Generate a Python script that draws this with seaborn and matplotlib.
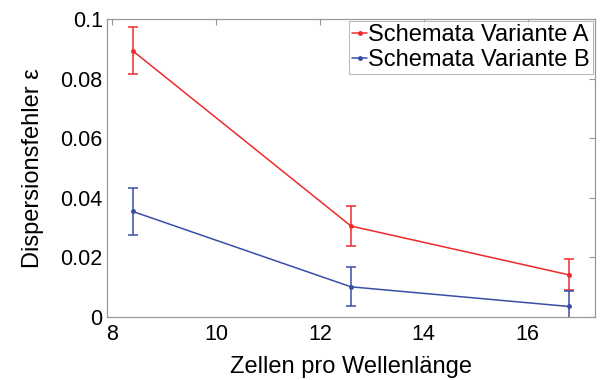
import matplotlib
matplotlib.use("Agg")
import matplotlib.pyplot as plt
import seaborn as sns
import pandas as pd

x_vals = [8.4, 12.6, 16.8]
series_a = [0.0893, 0.0305, 0.0141]
err_a = [0.0079, 0.0066, 0.0052]
series_b = [0.0354, 0.0101, 0.0035]
err_b = [0.0079, 0.0066, 0.0053]
labels = ["Schemata Variante A", "Schemata Variante B"]
colors = ["#EE2B2B", "#3A4DA6"]

sns.set_style("white")
plt.rcParams["font.family"] = ["Liberation Sans", "DejaVu Sans"]
plt.rcParams["text.color"] = "black"
plt.rcParams["axes.labelcolor"] = "black"

df = pd.DataFrame({
    "x": x_vals * 2,
    "y": series_a + series_b,
    "s": [labels[0]] * 3 + [labels[1]] * 3,
})

fig = plt.figure(figsize=(6, 3.8), dpi=100)
ax = fig.add_axes([0.178, 0.166, 0.814, 0.784])
sns.lineplot(data=df, x="x", y="y", hue="s", palette=colors, marker="o",
             markersize=3.5, markeredgewidth=0, linewidth=1.1, ax=ax)
for ys, es, c in [(series_a, err_a, colors[0]), (series_b, err_b, colors[1])]:
    ax.errorbar(x_vals, ys, yerr=es, fmt="none", ecolor=c, elinewidth=1.1,
                capsize=3.5, capthick=1.1)

ax.set_xlim(7.9, 17.3)
ax.set_ylim(0, 0.1)
ax.set_xticks([8, 10, 12, 14, 16])
ax.set_yticks([0, 0.02, 0.04, 0.06, 0.08, 0.1])
ax.set_yticklabels(["0", "0.02", "0.04", "0.06", "0.08", "0.1"])
ax.tick_params(direction="in", top=True, right=True, length=4, width=0.8,
               color="#999999", labelsize=15.5, labelcolor="black")
ax.tick_params(axis="x", pad=5)
ax.tick_params(axis="y", pad=3)
for sp in ax.spines.values():
    sp.set_color("#999999")
    sp.set_linewidth(0.9)
ax.set_xlabel("Zellen pro Wellenlänge", fontsize=17, labelpad=8, color="black")
ax.set_ylabel("Dispersionsfehler ε", fontsize=17, labelpad=12, color="black")

leg = ax.legend(loc="upper right", fontsize=17, handlelength=0.65,
                handletextpad=0.05, borderpad=0.12, borderaxespad=0.1,
                labelspacing=0.12, fancybox=False, frameon=True)
leg.get_frame().set_edgecolor("#AAAAAA")
leg.get_frame().set_linewidth(0.8)
for t in leg.get_texts():
    t.set_color("black")

fig.savefig("out.png", dpi=100)
